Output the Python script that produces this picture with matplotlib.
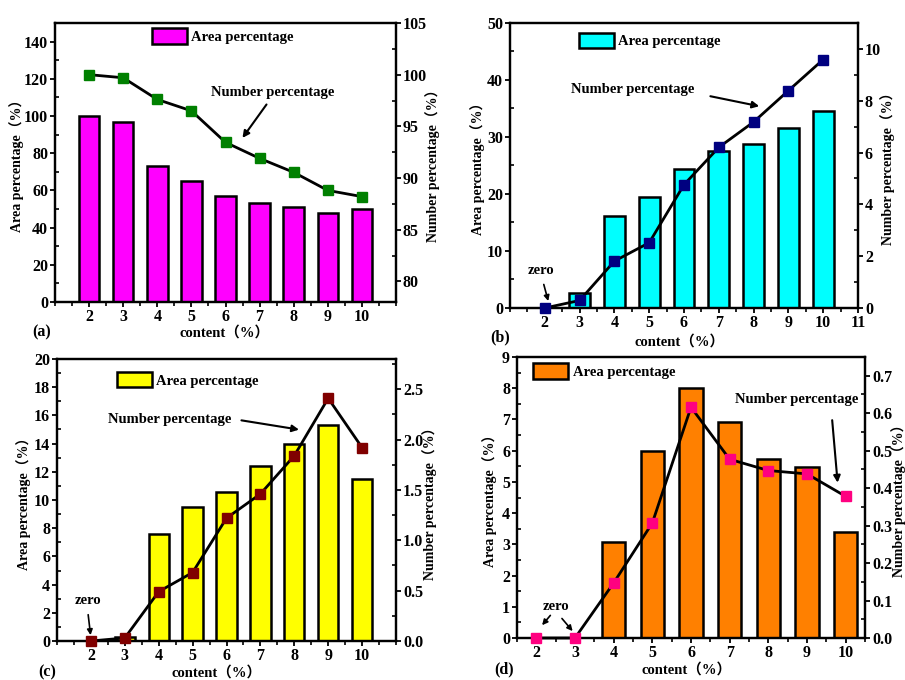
import numpy as np
import matplotlib
matplotlib.use("Agg")
from matplotlib import pyplot as plt
from matplotlib.patches import Patch
from matplotlib.ticker import MultipleLocator, FormatStrFormatter

plt.rcParams['font.family'] = ['Liberation Serif', 'Noto Sans CJK SC']
plt.rcParams['font.weight'] = 'bold'
plt.rcParams['axes.labelweight'] = 'bold'

content = [2, 3, 4, 5, 6, 7, 8, 9, 10]

# Area percentage (bars) for each panel
area_a = [100, 97, 73.3, 65, 57, 53.3, 51.3, 48, 50]
area_b = [0, 2.7, 16.1, 19.4, 24.4, 27.5, 28.8, 31.6, 34.6]
area_c = [0, 0.3, 7.57, 9.52, 10.6, 12.4, 14.0, 15.3, 11.5]
area_d = [0, 0, 3.07, 6.0, 8.0, 6.91, 5.72, 5.48, 3.41]

# Number percentage (lines) for each panel
num_a = [100.0, 99.7, 97.6, 96.5, 93.45, 91.9, 90.55, 88.8, 88.2]
num_b = [0, 0.29, 1.81, 2.52, 4.76, 6.2, 7.18, 8.39, 9.59]
num_c = [0, 0.03, 0.49, 0.68, 1.22, 1.46, 1.84, 2.41, 1.92]
num_d = [0, 0, 0.147, 0.307, 0.616, 0.477, 0.447, 0.438, 0.378]

W, H = 905, 680
fig = plt.figure(figsize=(W / 100, H / 100), dpi=100)


def px_axes(left, top, right, bottom):
    return fig.add_axes([left / W, 1 - bottom / H, (right - left) / W, (bottom - top) / H])


def style_axis(ax):
    for sp in ax.spines.values():
        sp.set_linewidth(1.6)
    ax.tick_params(axis='both', which='major', labelsize=11.5, width=1.3, length=3.5,
                   direction='out', pad=1.5)
    ax.tick_params(axis='y', which='minor', width=1.2, length=3, direction='in')
    ax.tick_params(axis='x', which='minor', width=1.2, length=3, direction='out')
    for lab in ax.get_xticklabels() + ax.get_yticklabels():
        lab.set_fontweight('bold')


def panel(box, area, num, bar_color, mk_color, xlim, xticks, ylim, ystep, ylim2, ystep2, fmt2,
          leg_xy, txt_xy, arr_tail, arr_head, zero_xy, zero_arrows, tag, tag_xy, xl_xy, yl_x, yl2_x):
    ax = px_axes(*box)
    ax.bar(content, area, width=0.6, color=bar_color, edgecolor='black', linewidth=1.8, zorder=2)
    ax.set_xlim(*xlim)
    ax.set_ylim(*ylim)
    ax.set_xticks(xticks)
    ax.xaxis.set_minor_locator(MultipleLocator(0.5))
    ax.yaxis.set_major_locator(MultipleLocator(ystep))
    ax.yaxis.set_minor_locator(MultipleLocator(ystep / 2))
    ax.set_ylabel('Area percentage（%）', fontsize=10, fontweight='bold')
    ax.yaxis.set_label_coords(yl_x, 0.5)
    ax.yaxis.label.set_va('center')
    style_axis(ax)

    ax2 = ax.twinx()
    ax2.plot(content, num, '-', color='black', lw=2, marker='s', ms=7,
             mfc=mk_color, mec=mk_color, clip_on=False, zorder=3)
    ax2.set_ylim(*ylim2)
    ax2.yaxis.set_major_locator(MultipleLocator(ystep2))
    ax2.yaxis.set_minor_locator(MultipleLocator(ystep2 / 2))
    if fmt2:
        ax2.yaxis.set_major_formatter(FormatStrFormatter(fmt2))
    ax2.set_ylabel('Number percentage（%）', fontsize=10, fontweight='bold')
    ax2.yaxis.set_label_coords(yl2_x, 0.5)
    ax2.yaxis.label.set_va('center')
    style_axis(ax2)

    handle = Patch(facecolor=bar_color, edgecolor='black', linewidth=1.8)
    ax.legend([handle], ['Area percentage'], loc='upper left', bbox_to_anchor=leg_xy,
              frameon=False, borderpad=0, borderaxespad=0, handlelength=2.4,
              handleheight=1.25, handletextpad=0.3, prop={'size': 10.5, 'weight': 'bold'})

    ax.annotate('', xy=arr_head, xycoords='axes fraction', xytext=arr_tail,
                arrowprops=dict(arrowstyle='-|>', color='black', lw=1.5, mutation_scale=10))
    ax.text(txt_xy[0], txt_xy[1], 'Number percentage', transform=ax.transAxes,
            ha='center', va='center', fontsize=10.5, fontweight='bold')
    if zero_xy is not None:
        ax.text(zero_xy[0], zero_xy[1], 'zero', transform=ax.transAxes,
                ha='center', va='center', fontsize=10.5, fontweight='bold')
        for tail, head in zero_arrows:
            ax.annotate('', xy=head, xycoords='axes fraction', xytext=tail,
                        arrowprops=dict(arrowstyle='-|>', color='black', lw=1.2, mutation_scale=8))

    fig.text(tag_xy[0] / W, 1 - tag_xy[1] / H, tag, ha='center', va='center',
             fontsize=11.5, fontweight='bold')
    fig.text(xl_xy[0] / W, 1 - xl_xy[1] / H, 'content（%）', ha='center', va='center',
             fontsize=10.5, fontweight='bold')
    return ax, ax2


panel((55, 23, 396, 302), area_a, num_a, '#FF00FF', '#008000',
      (1, 11), range(2, 11), (0, 150), 20, (78, 105), 5, None,
      (0.284, 0.981), (0.639, 0.752), (0.625, 0.716), (0.545, 0.58),
      None, [], '(a)', (42, 332), (225, 333), -0.112, 1.108)

panel((510, 23, 858, 308), area_b, num_b, '#00FFFF', '#000080',
      (1, 11), range(2, 12), (0, 50), 10, (0, 11), 2, None,
      (0.198, 0.966), (0.353, 0.766), (0.568, 0.745), (0.724, 0.706),
      (0.089, 0.131), [((0.095, 0.092), (0.112, 0.015))], '(b)', (500, 337), (680, 342),
      -0.092, 1.086)

panel((57, 359, 396, 641), area_c, num_c, '#FFFF00', '#800000',
      (1, 11), range(2, 11), (0, 20), 2, (0, 2.8), 0.5, '%.1f',
      (0.176, 0.954), (0.333, 0.787), (0.536, 0.784), (0.722, 0.748),
      (0.091, 0.142), [((0.091, 0.103), (0.1, 0.011))], '(c)', (47, 672), (217, 673),
      -0.100, 1.100)

panel((517, 357, 865, 638), area_d, num_d, '#FF8000', '#FF0080',
      (1.5, 10.5), range(2, 11), (0, 9), 1, (0, 0.75), 0.1, '%.1f',
      (0.047, 0.978), (0.805, 0.849), (0.905, 0.785), (0.922, 0.543),
      (0.113, 0.113), [((0.101, 0.088), (0.067, 0.038)), ((0.124, 0.077), (0.165, 0.017))],
      '(d)', (504, 669), (687, 670), -0.078, 1.096)

fig.savefig('out.png', dpi=100)
